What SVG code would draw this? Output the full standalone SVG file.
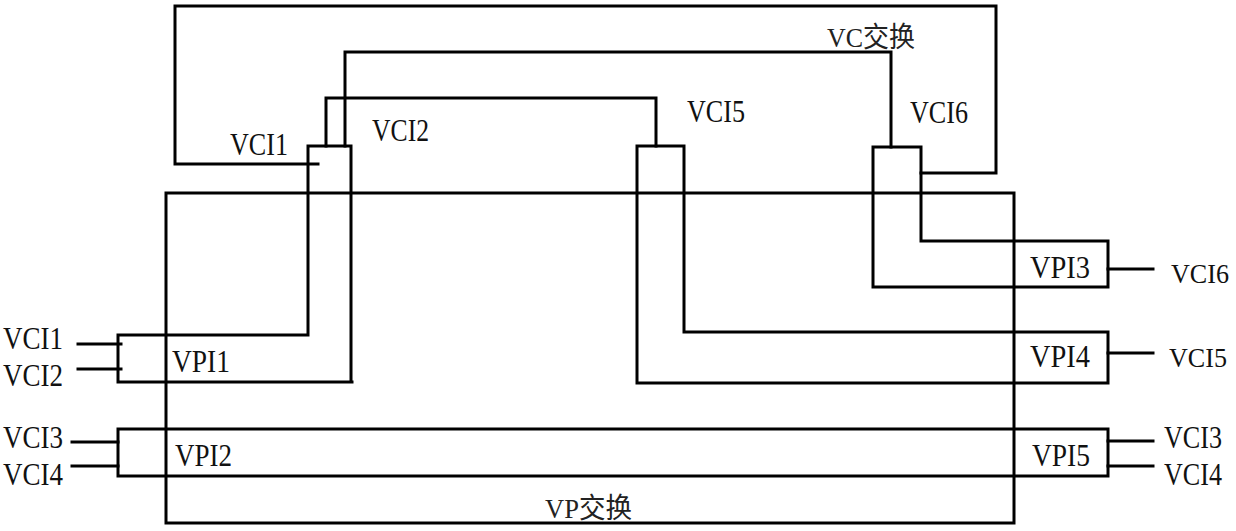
<svg xmlns="http://www.w3.org/2000/svg" width="1236" height="531" viewBox="0 0 1236 531">
<style>
.s{fill:none;stroke:#000;stroke-width:3;stroke-linecap:square;stroke-linejoin:miter}
.t{font-family:"Liberation Serif","Noto Sans CJK SC",serif;font-size:31px;fill:#111}
.r{font-family:"Liberation Serif","Noto Sans CJK SC",serif;font-size:28px;fill:#111}
.c{font-family:"Liberation Serif","Noto Sans CJK SC",serif;font-size:28px;fill:#222}
</style>
<rect width="1236" height="531" fill="#fff"/>
<g id="vp-switch">
<rect class="s" x="166" y="193" width="848" height="330"/>
<text class="c" x="545" y="518" textLength="87" lengthAdjust="spacingAndGlyphs">VP交换</text>
</g>
<g id="vpi1">
<path class="s" d="M352,382 H118 V335 H308 V146 H351 V382"/>
<text class="t" x="172" y="372" textLength="58" lengthAdjust="spacingAndGlyphs">VPI1</text>
</g>
<g id="vpi2-vpi5">
<rect class="s" x="118" y="429" width="990" height="47"/>
<text class="t" x="175" y="466" textLength="57" lengthAdjust="spacingAndGlyphs">VPI2</text>
<text class="t" x="1032" y="466" textLength="58" lengthAdjust="spacingAndGlyphs">VPI5</text>
</g>
<g id="vpi4">
<path class="s" d="M637,146 H684 V332 H1108 V383 H637 Z"/>
<text class="t" x="1030" y="367" textLength="60" lengthAdjust="spacingAndGlyphs">VPI4</text>
</g>
<g id="vpi3">
<path class="s" d="M873,147 H921 V241 H1108 V287 H873 Z"/>
<text class="t" x="1030" y="278" textLength="60" lengthAdjust="spacingAndGlyphs">VPI3</text>
</g>
<g id="vc-switch">
<text class="c" x="827" y="47" textLength="88" lengthAdjust="spacingAndGlyphs">VC交换</text>
</g>
<g id="connectors">
<path class="s" d="M318,164 H175 V6 H996 V173 H921"/>
<path class="s" d="M345,146 V52 H891 V147"/>
<path class="s" d="M326,146 V98 H656 V146"/>
<path class="s" d="M78,344 H121 M78,369 H121 M72,442 H118 M72,466 H118"/>
<path class="s" d="M1108,269 H1153 M1108,353 H1153 M1108,441 H1153 M1108,466 H1153"/>
</g>
<g id="labels">
<text class="t" x="230" y="155" textLength="58" lengthAdjust="spacingAndGlyphs">VCI1</text>
<text class="t" x="372" y="141" textLength="57" lengthAdjust="spacingAndGlyphs">VCI2</text>
<text class="t" x="687" y="122" textLength="58" lengthAdjust="spacingAndGlyphs">VCI5</text>
<text class="t" x="910" y="123" textLength="58" lengthAdjust="spacingAndGlyphs">VCI6</text>
<text class="t" x="3" y="349" textLength="60" lengthAdjust="spacingAndGlyphs">VCI1</text>
<text class="t" x="3" y="386" textLength="60" lengthAdjust="spacingAndGlyphs">VCI2</text>
<text class="t" x="3" y="448" textLength="60" lengthAdjust="spacingAndGlyphs">VCI3</text>
<text class="t" x="3" y="485" textLength="60" lengthAdjust="spacingAndGlyphs">VCI4</text>
<text class="r" x="1171" y="283" textLength="58" lengthAdjust="spacingAndGlyphs">VCI6</text>
<text class="r" x="1169" y="367" textLength="58" lengthAdjust="spacingAndGlyphs">VCI5</text>
<text class="t" x="1164" y="448" textLength="58" lengthAdjust="spacingAndGlyphs">VCI3</text>
<text class="t" x="1164" y="485" textLength="58" lengthAdjust="spacingAndGlyphs">VCI4</text>
</g>
</svg>
